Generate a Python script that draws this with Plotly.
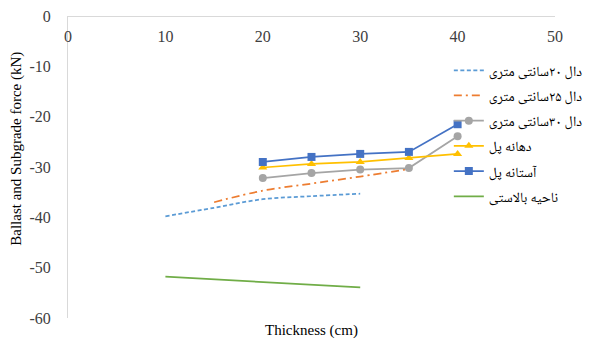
import plotly.graph_objects as go

# Data
x_d20 = [10, 15, 20, 25, 30]
y_d20 = [-39.8, -38.1, -36.4, -35.8, -35.3]

x_d25 = [15, 20, 25, 30, 35]
y_d25 = [-37.0, -34.7, -33.3, -31.9, -30.4]

x_main = [20, 25, 30, 35, 40]
y_d30 = [-32.2, -31.2, -30.5, -30.2, -23.9]
y_span = [-30.1, -29.4, -29.0, -28.2, -27.4]
y_abut = [-29.0, -28.0, -27.4, -27.0, -21.5]

x_ballast = [10, 20, 30]
y_ballast = [-51.8, -52.8, -53.9]

names = ["دال ۲۰سانتی متری", "دال ۲۵سانتی متری", "دال ۳۰سانتی متری",
         "دهانه پل", "آستانه پل", "ناحیه بالاستی"]

x_ticks = [0, 10, 20, 30, 40, 50]
x_ticktext = ["0", "10", "20", "30", "40", "50"]
y_ticks = [0, -10, -20, -30, -40, -50, -60]
y_ticktext = ["0", "-10", "-20", "-30", "-40", "-50", "-60"]

fig = go.Figure()
fig.add_trace(go.Scatter(x=x_d20, y=y_d20, mode="lines", name=names[0], legendgroup="g1",
                         line=dict(color="#5B9BD5", width=1.75, dash="4px,2.5px", shape="spline")))
fig.add_trace(go.Scatter(x=x_d25, y=y_d25, mode="lines", name=names[1], legendgroup="g2",
                         line=dict(color="#ED7D31", width=1.75, dash="8px,4px,2px,4px", shape="spline")))
fig.add_trace(go.Scatter(x=x_main, y=y_d30, mode="lines+markers", name=names[2], legendgroup="g3",
                         line=dict(color="#A5A5A5", width=1.75),
                         marker=dict(symbol="circle", size=8, color="#A5A5A5")))
fig.add_trace(go.Scatter(x=x_main, y=y_span, mode="lines+markers", name=names[3], legendgroup="g4",
                         line=dict(color="#FFC000", width=1.75),
                         marker=dict(symbol="triangle-up", size=8, color="#FFC000")))
fig.add_trace(go.Scatter(x=x_main, y=y_abut, mode="lines+markers", name=names[4], legendgroup="g5",
                         line=dict(color="#4472C4", width=1.75),
                         marker=dict(symbol="square", size=8, color="#4472C4")))
fig.add_trace(go.Scatter(x=x_ballast, y=y_ballast, mode="lines", name=names[5], legendgroup="g6",
                         line=dict(color="#70AD47", width=1.75)))

serif = "Liberation Serif, Times New Roman, serif"

fig.update_layout(
    width=602, height=343,
    margin=dict(l=68, r=47, t=16, b=25, autoexpand=False),
    paper_bgcolor="white", plot_bgcolor="white",
    font=dict(family=serif, size=15, color="#404040"),
    showlegend=True,
    legend=dict(x=0.782, y=0.872, xanchor="left", yanchor="top",
                bgcolor="rgba(255,255,255,0)", traceorder="grouped",
                font=dict(family="Noto Naskh Arabic, Noto Sans Arabic, DejaVu Sans, serif",
                          size=14, color="#000"),
                tracegroupgap=4, itemwidth=30),
    xaxis=dict(range=[0, 50], tickvals=x_ticks, ticktext=x_ticktext,
               anchor="free", position=1, side="bottom", automargin=False,
               showline=True, linecolor="#D9D9D9", linewidth=1,
               showgrid=False, zeroline=False, ticks="", ticklabelstandoff=6,
               tickfont=dict(family=serif, size=16, color="#404040")),
    yaxis=dict(range=[-60, 0], tickvals=y_ticks, ticktext=y_ticktext, automargin=False,
               showline=True, linecolor="#D9D9D9", linewidth=1,
               showgrid=False, zeroline=False, ticks="", ticklabelstandoff=13,
               tickfont=dict(family=serif, size=16, color="#404040")),
)

fig.add_annotation(text="Ballast and Subgrade force (kN)", xref="paper", yref="paper",
                   x=-0.105, y=0.56, xanchor="center", yanchor="middle", textangle=-90,
                   showarrow=False, font=dict(family=serif, size=15, color="#000"))

fig.add_annotation(text="Thickness (cm)", xref="paper", yref="paper",
                   x=0.5, y=-0.04, xanchor="center", yanchor="middle", showarrow=False,
                   font=dict(family=serif, size=15, color="#000"))

fig.write_html("out.html", config={"displayModeBar": False},
               post_script="document.body.style.margin='0';")
